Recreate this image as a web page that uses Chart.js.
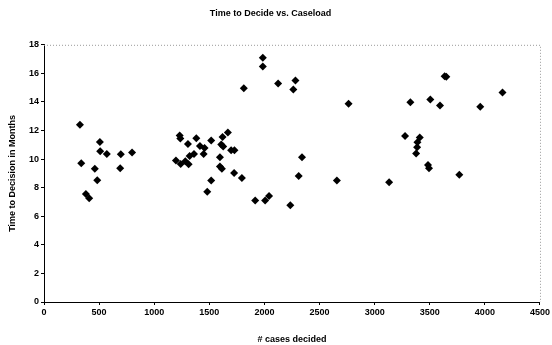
<!DOCTYPE html>
<html>
<head>
<meta charset="utf-8">
<script src="https://cdn.jsdelivr.net/npm/chart.js@4"></script>
<style>
html,body{margin:0;padding:0;background:#fff;}
#wrap{width:552px;height:345px;}
</style>
</head>
<body>
<div id="wrap"><canvas id="c" width="552" height="345"></canvas></div>
<script>
const chartTitle = "Time to Decide vs. Caseload";
const xTitle = "# cases decided";
const yTitle = "Time to Decision in Months";
const casesDecided = [
  326, 338, 380, 410, 461, 483, 507, 510, 570, 691, 697, 799,
  1197, 1231, 1237, 1240, 1282, 1306, 1312, 1321, 1361, 1382, 1415, 1448, 1457,
  1481, 1517, 1517, 1596, 1596, 1608, 1614, 1620, 1626, 1668, 1698, 1725, 1728, 1795, 1813,
  1916, 1985, 1985, 2006, 2042, 2124, 2235, 2262, 2281, 2311, 2341, 2657, 2763,
  3131, 3276, 3324, 3376, 3385, 3388, 3409, 3484, 3493, 3505, 3593, 3635, 3650, 3768, 3958, 4160
];
const monthsToDecision = [
  12.4, 9.71, 7.56, 7.26, 9.33, 8.52, 11.2, 10.55, 10.36, 9.36, 10.34, 10.46,
  9.9, 11.65, 11.44, 9.66, 9.85, 11.06, 9.64, 10.22, 10.36, 11.46, 10.92, 10.36, 10.78,
  7.72, 8.5, 11.3, 10.13, 9.48, 11.02, 9.33, 11.55, 10.88, 11.86, 10.62, 9.03, 10.62, 8.68, 14.96,
  7.1, 17.1, 16.48, 7.1, 7.42, 15.29, 6.77, 14.87, 15.5, 8.82, 10.13, 8.5, 13.87,
  8.38, 11.62, 13.98, 10.39, 10.83, 11.18, 11.51, 9.59, 9.36, 14.17, 13.75, 15.8, 15.76, 8.9, 13.66, 14.66
];
const xTicks = [0, 500, 1000, 1500, 2000, 2500, 3000, 3500, 4000, 4500];
const yTicks = [0, 2, 4, 6, 8, 10, 12, 14, 16, 18];

const points = casesDecided.map((x, i) => ({x: x, y: monthsToDecision[i]}));
const FONT = "'Liberation Sans', Arial, sans-serif";

const frame = {
  id: 'frame',
  beforeDatasetsDraw(chart) {
    const {ctx, chartArea: a} = chart;
    ctx.save();
    ctx.strokeStyle = '#9a9a9a';
    ctx.lineWidth = 1;
    ctx.setLineDash([1, 2]);
    ctx.beginPath();
    ctx.moveTo(a.left, a.top + 0.5);
    ctx.lineTo(a.right + 0.5, a.top + 0.5);
    ctx.lineTo(a.right + 0.5, a.bottom);
    ctx.stroke();
    ctx.restore();
  }
};

new Chart(document.getElementById('c'), {
  type: 'scatter',
  data: {
    datasets: [{
      data: points,
      pointStyle: 'rectRot',
      pointRadius: 4,
      pointHoverRadius: 4,
      backgroundColor: '#000',
      borderColor: '#000',
      borderWidth: 0
    }]
  },
  options: {
    responsive: false,
    animation: false,
    devicePixelRatio: 1,
    layout: {padding: {left: 0, right: 11, top: 0, bottom: 0}},
    plugins: {
      legend: {display: false},
      tooltip: {enabled: false},
      title: {
        display: true,
        text: chartTitle,
        color: '#000',
        font: {family: FONT, size: 9, weight: 'bold'},
        padding: {top: 8, bottom: 26}
      }
    },
    scales: {
      x: {
        type: 'linear',
        min: 0, max: 4500,
        afterBuildTicks: s => { s.ticks = xTicks.map(v => ({value: v})); },
        afterFit: s => { s.height = 43; },
        grid: {display: true, drawOnChartArea: false, drawTicks: true, tickLength: 3, color: '#000'},
        border: {display: true, color: '#000', width: 1},
        ticks: {color: '#000', font: {family: FONT, size: 9, weight: 'bold'}, padding: 2, maxRotation: 0, callback: v => String(v)},
        title: {display: true, text: xTitle, color: '#000', font: {family: FONT, size: 9, weight: 'bold'}, padding: {top: 3, bottom: 0}}
      },
      y: {
        type: 'linear',
        min: 0, max: 18,
        afterBuildTicks: s => { s.ticks = yTicks.map(v => ({value: v})); },
        afterFit: s => { s.width = 44; },
        grid: {display: true, drawOnChartArea: false, drawTicks: true, tickLength: 3, color: '#000'},
        border: {display: true, color: '#000', width: 1},
        ticks: {color: '#000', font: {family: FONT, size: 9, weight: 'bold'}, padding: 2, callback: v => String(v)},
        title: {display: true, text: yTitle, color: '#000', font: {family: FONT, size: 9, weight: 'bold'}, padding: {top: 7, bottom: 0}}
      }
    }
  },
  plugins: [frame]
});
</script>
</body>
</html>
